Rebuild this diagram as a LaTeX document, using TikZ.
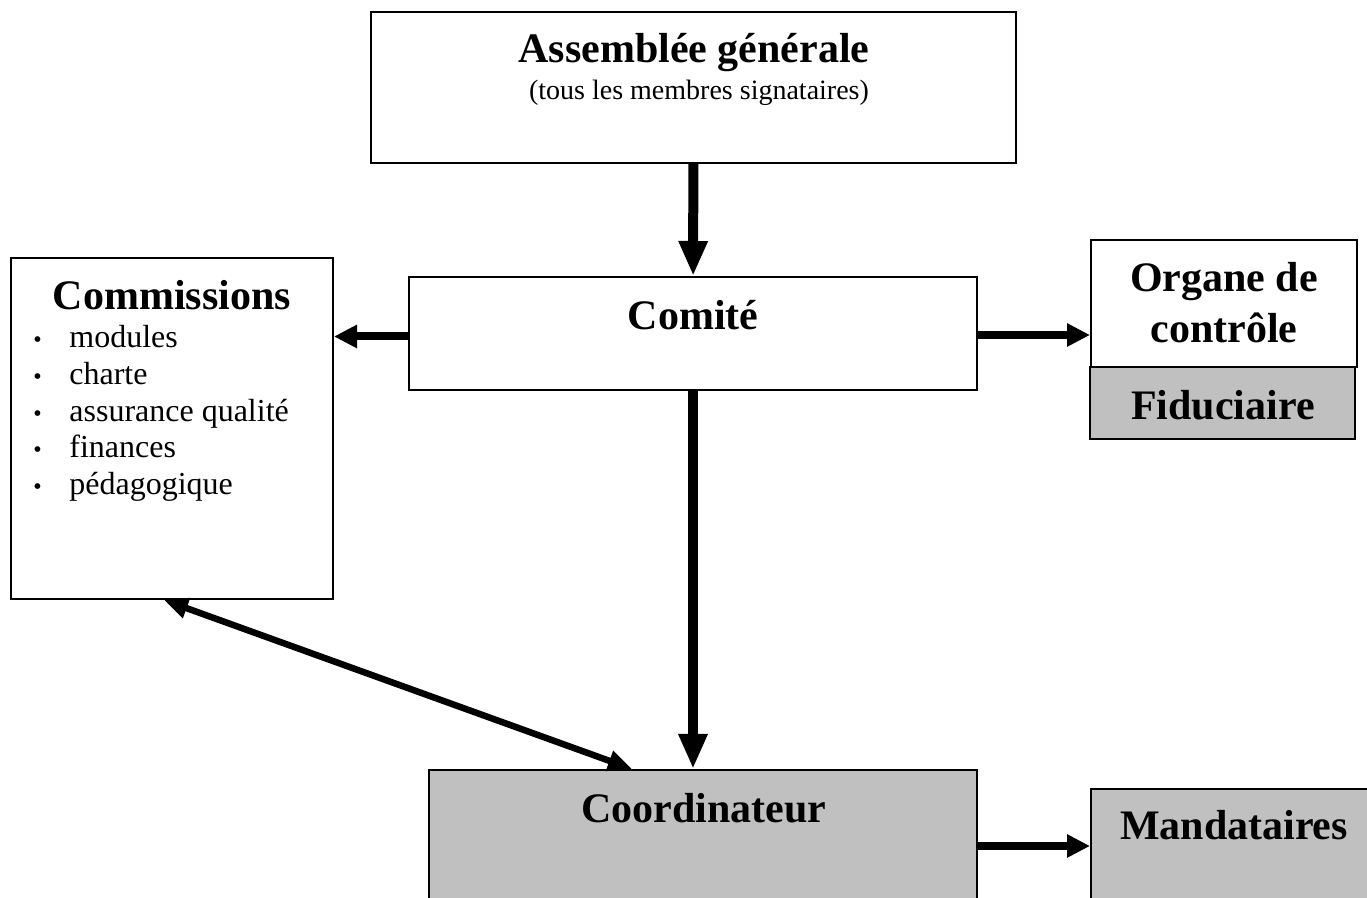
\documentclass[tikz,border=0pt]{standalone}
\usepackage{fontspec}
\setmainfont{Liberation Serif}
\usetikzlibrary{arrows.meta,fit}

\definecolor{boxgrey}{HTML}{C0C0C0}

\tikzset{
  box/.style={draw, line width=1pt, inner sep=0pt},
  greybox/.style={box, fill=boxgrey},
  titletext/.style={font=\fontsize{21}{25}\selectfont\bfseries, anchor=base, inner sep=0pt},
  smalltext/.style={font=\fontsize{14}{17}\selectfont, anchor=base, inner sep=0pt},
  itemtext/.style={font=\fontsize{16}{19}\selectfont, anchor=base west, inner sep=0pt},
  bigarrow/.style={line width=5pt, -{Triangle[length=17.5pt,width=13.5pt]}},
  sidearrow/.style={line width=4pt, -{Triangle[length=11.5pt,width=11pt]}},
  dblarrow/.style={line width=3.25pt, {Triangle[length=12pt,width=10pt]}-{Triangle[length=12pt,width=10pt]}}
}

\newcommand{\itembullet}{\makebox[18pt][l]{\fontsize{12}{12}\selectfont\textbullet}}

\begin{document}
\begin{tikzpicture}[x=0.5pt, y=-0.5pt]

\clip (0,0) rectangle (1367,898);

% boxes
\node [box, fit={(371,12) (1016,163)}] (ag) {};
\node [box, fit={(409,277) (977,390)}] (comite) {};
\node [box, fit={(11,258) (333,599)}] (comm) {};
\node [box, fit={(1091,240) (1357,367)}] (organe) {};
\node [greybox, fit={(1090,367) (1355,439)}] (fidu) {};
\node [greybox, fit={(429,770) (977,922)}] (coord) {};
\node [greybox, fit={(1091,789) (1380,903)}] (mand) {};

% texts
\node [titletext] (agtitle) at (694,63) {Assemblée générale};
\node [smalltext] (agsub) at (699,100) {(tous les membres signataires)};
\node [titletext] (comitetitle) at (693,330) {Comité};
\node [titletext] (commtitle) at (172,310) {Commissions};
\node [itemtext] (it1) at (33,348) {\itembullet modules};
\node [itemtext] (it2) at (33,385) {\itembullet charte};
\node [itemtext] (it3) at (33,422) {\itembullet assurance qualité};
\node [itemtext] (it4) at (33,458) {\itembullet finances};
\node [itemtext] (it5) at (33,495) {\itembullet pédagogique};
\node [titletext] (organe1) at (1224,292) {Organe de};
\node [titletext] (organe2) at (1224,343) {contrôle};
\node [titletext] (fidutitle) at (1223,420) {Fiduciaire};
\node [titletext] (coordtitle) at (704,822) {Coordinateur};
\node [titletext] (mandtitle) at (1234,840) {Mandataires};

% arrows
\draw [bigarrow] (ag) -- (comite);
\draw [bigarrow] (comite.south) -- (comite.south |- coord.north);
\draw [sidearrow] ([yshift=-1.5pt]comite.west) -- ([yshift=-1.5pt]comite.west -| comm.east);
\draw [sidearrow] ([yshift=-0.75pt]comite.east) -- ([yshift=-0.75pt]comite.east -| organe.west);
\draw [sidearrow] (coord) -- (mand);
\draw [dblarrow] ([xshift=77pt]comm.south west) -- ([xshift=102pt]coord.north west);

\end{tikzpicture}
\end{document}
